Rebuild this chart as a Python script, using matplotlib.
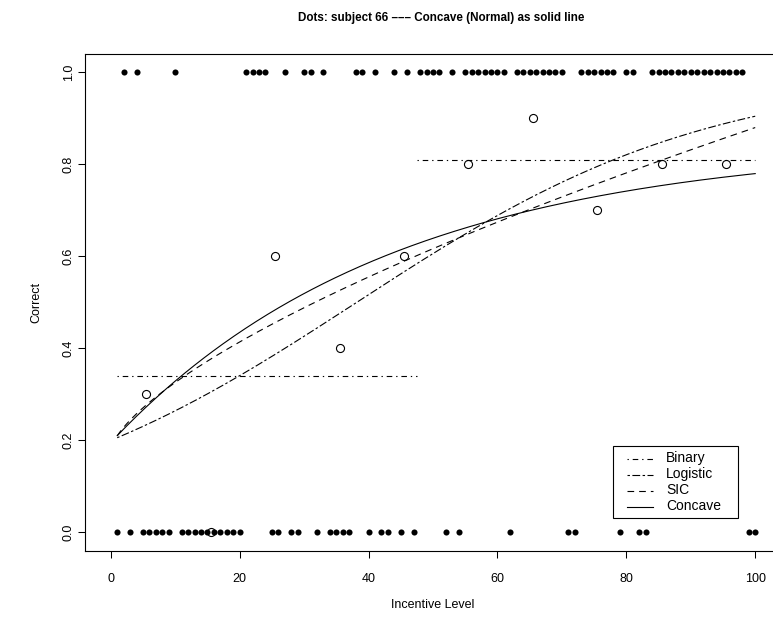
import numpy as np
import matplotlib
matplotlib.use("Agg")
import matplotlib.pyplot as plt
from matplotlib.lines import Line2D
from matplotlib.patches import Rectangle

plt.rcParams['font.family'] = ['Liberation Sans', 'DejaVu Sans']

# Trial-by-trial responses for subject 66 (one trial per incentive level 1..100)
incentive = list(range(1, 101))
correct = [0, 1, 0, 1, 0, 0, 0, 0, 0, 1,
           0, 0, 0, 0, 0, 0, 0, 0, 0, 0,
           1, 1, 1, 1, 0, 0, 1, 0, 0, 1,
           1, 0, 1, 0, 0, 0, 0, 1, 1, 0,
           1, 0, 0, 1, 0, 1, 0, 1, 1, 1,
           1, 0, 1, 0, 1, 1, 1, 1, 1, 1,
           1, 0, 1, 1, 1, 1, 1, 1, 1, 1,
           0, 0, 1, 1, 1, 1, 1, 1, 0, 1,
           1, 0, 0, 1, 1, 1, 1, 1, 1, 1,
           1, 1, 1, 1, 1, 1, 1, 1, 0, 0]

# Proportion correct within each block of ten incentive levels
bin_centers = [5.5, 15.5, 25.5, 35.5, 45.5, 55.5, 65.5, 75.5, 85.5, 95.5]
bin_means = [0.3, 0.0, 0.6, 0.4, 0.6, 0.8, 0.9, 0.7, 0.8, 0.8]

# Binary (step) model: low and high plateaus split at the threshold
binary_threshold = 47.5
binary_low = 0.34
binary_high = 0.81

# Fitted curve parameters
logistic_a, logistic_b = -1.39, 0.0364
sic_a, sic_b, sic_p = 0.179, 0.0306, 0.68
concave_A, concave_B, concave_k = 0.845, 0.650, 0.023

legend_labels = ['Binary', 'Logistic', 'SIC', 'Concave']

W, H, DPI = 773, 627, 100
fig = plt.figure(figsize=(W / DPI, H / DPI), dpi=DPI)


def fx(px):
    return px / W


def fy(py):
    return 1 - py / H


# plot region in pixels: left 85, right 781 (runs past the right edge), top 54, bottom 550.5
left_px, right_px, top_px, bot_px = 85, 781, 54, 550.5
ax = fig.add_axes([fx(left_px), fy(bot_px),
                   (right_px - left_px) / W, (bot_px - top_px) / H])

lw = 0.8
dotdash = (0, (1.2, 3.5, 5, 3.5))
twodash = (0, (2.2, 2.2, 7, 2.2))
dashed = (0, (6, 4.5))
styles = [dotdash, twodash, dashed, '-']

ax.plot(incentive, correct, 'o', color='black', markersize=4.4,
        markeredgewidth=0, linestyle='none')
ax.plot(bin_centers, bin_means, 'o', markerfacecolor='none',
        markeredgecolor='black', markersize=5.8, markeredgewidth=0.8,
        linestyle='none')

xs = np.linspace(incentive[0], incentive[-1], 400)

ax.plot([incentive[0], binary_threshold], [binary_low, binary_low],
        color='black', lw=lw, linestyle=dotdash)
ax.plot([binary_threshold, incentive[-1]], [binary_high, binary_high],
        color='black', lw=lw, linestyle=dotdash)

logistic = 1 / (1 + np.exp(-(logistic_a + logistic_b * xs)))
ax.plot(xs, logistic, color='black', lw=lw, linestyle=twodash)

sic = sic_a + sic_b * xs ** sic_p
ax.plot(xs, sic, color='black', lw=lw, linestyle=dashed)

concave = concave_A - concave_B * np.exp(-concave_k * xs)
ax.plot(xs, concave, color='black', lw=lw, linestyle='-')

ax.set_xlim(-4, 104)
ax.set_ylim(-0.04, 1.04)
ax.set_xticks([0, 20, 40, 60, 80, 100])
ax.set_yticks([0.0, 0.2, 0.4, 0.6, 0.8, 1.0])
ax.set_yticklabels(['0.0', '0.2', '0.4', '0.6', '0.8', '1.0'],
                   rotation=90, va='center')
ax.tick_params(axis='both', direction='out', length=5, width=0.75,
               labelsize=9, colors='black')
ax.tick_params(axis='x', pad=11)
ax.tick_params(axis='y', pad=2.5)
for s in ax.spines.values():
    s.set_linewidth(0.8)
    s.set_color('black')

# Legend box drawn in figure pixel positions
fig.add_artist(Rectangle((fx(613), fy(518)), (738 - 613) / W, (518 - 446) / H,
                         transform=fig.transFigure, facecolor='white',
                         edgecolor='black', linewidth=0.8, zorder=5))
row_y = [458, 474, 490, 506]
for lab, st, ry in zip(legend_labels, styles, row_y):
    fig.add_artist(Line2D([fx(627), fx(653)], [fy(ry + 0.5), fy(ry + 0.5)],
                          transform=fig.transFigure, color='black', lw=lw,
                          linestyle=st, zorder=6))
    fig.text(fx(666), fy(ry), lab, ha='left', va='center', fontsize=10,
             zorder=7)

fig.text(fx(441), fy(18), 'Dots: subject 66 \u2013\u2013\u2013 Concave (Normal) as solid line',
         ha='center', va='center', fontsize=8.4, fontweight='bold')
fig.text(fx((left_px + right_px) / 2), fy(605), 'Incentive Level',
         ha='center', va='center', fontsize=9)
fig.text(fx(36), fy((top_px + bot_px) / 2), 'Correct', ha='center', va='center',
         rotation=90, fontsize=9)

fig.savefig('out.png', dpi=DPI)
